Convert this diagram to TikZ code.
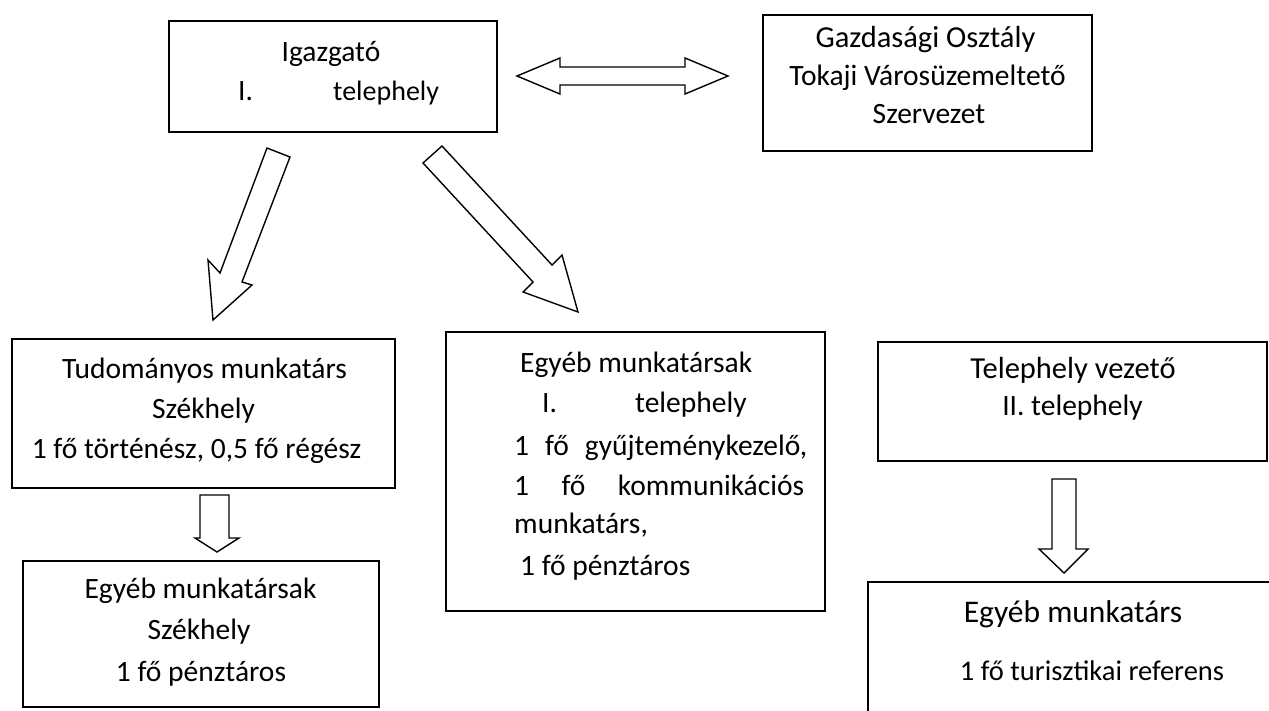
\documentclass[tikz,border=0pt]{standalone}
\usepackage{fontspec}
\setmainfont{Carlito}
\begin{document}
\begin{tikzpicture}[x=1pt,y=-1pt,
  box/.style={draw, line width=1.8pt, rectangle, inner sep=0pt},
  txt/.style={inner sep=0pt, font=\fontsize{29.5}{34}\selectfont},
  blockarrow/.style={draw, line width=1.4pt, fill=white, line join=miter}]
\useasboundingbox (0,0) rectangle (1269,710);
\clip (0,0) rectangle (1269,710);
\fill[white] (0,0) rectangle (1269,710);

% boxes
\node[box, minimum width=328pt, minimum height=111pt] (igaz) at (333,76.5) {};
\node[box, minimum width=329pt, minimum height=136pt] (gazd) at (927.5,83) {};
\node[box, minimum width=383pt, minimum height=149pt] (tud) at (203.5,413.5) {};
\node[box, minimum width=356pt, minimum height=146pt] (egyl) at (201,634) {};
\node[box, minimum width=379pt, minimum height=279pt] (egym) at (635.5,471.5) {};
\node[box, minimum width=389pt, minimum height=119pt] (telv) at (1072.5,401.5) {};
\node[box, minimum width=432pt, minimum height=158pt] (egyr) at (1084,661) {};

% texts
\node[txt, anchor=base] (t1) at (331,61) {Igazgató};
\node[txt, anchor=base west] (t2) at (238,100) {\makebox[95pt][l]{I.}{\fontsize{28}{34}\selectfont telephely}};

\node[txt, anchor=base] (g1) at (925.5,47) {\fontsize{30.5}{34}\selectfont Gazdasági Osztály};
\node[txt, anchor=base] (g2) at (927.5,85) {Tokaji Városüzemeltető};
\node[txt, anchor=base] (g3) at (929,123) {Szervezet};

\node[txt, anchor=base] (u1) at (204.5,378) {Tudományos munkatárs};
\node[txt, anchor=base] (u2) at (203.5,418) {Székhely};
\node[txt, anchor=base] (u3) at (196.5,458) {1 fő történész, 0,5 fő régész};

\node[txt, anchor=base] (l1) at (200.5,598) {Egyéb munkatársak};
\node[txt, anchor=base] (l2) at (199,639) {Székhely};
\node[txt, anchor=base] (l3) at (201,681) {1 fő pénztáros};

\node[txt, anchor=base west] (m1) at (520,372) {Egyéb munkatársak};
\node[txt, anchor=base west] (m2) at (542,412) {\makebox[93pt][l]{I.}telephely};
\node[txt, anchor=base west] (m3) at (514,455) {\makebox[293pt][s]{1 fő gyűjteménykezelő,}};
\node[txt, anchor=base west] (m4) at (514,495) {\makebox[290pt][s]{1 fő kommunikációs}};
\node[txt, anchor=base west] (m5) at (514,533) {munkatárs,};
\node[txt, anchor=base west] (m6) at (520,575) {1 fő pénztáros};

\node[txt, anchor=base] (v1) at (1073,378) {\fontsize{30.5}{34}\selectfont Telephely vezető};
\node[txt, anchor=base] (v2) at (1072.5,415) {II. telephely};

\node[txt, anchor=base] (r1) at (1073,622) {\fontsize{31.5}{34}\selectfont Egyéb munkatárs};
\node[txt, anchor=base] (r2) at (1092,680) {\fontsize{28.5}{34}\selectfont 1 fő turisztikai referens};

% block arrows
\draw[blockarrow] (517,76) -- (560,58) -- (560,67) -- (685,67) -- (685,58) -- (728,76)
  -- (685,94) -- (685,85) -- (560,85) -- (560,94) -- cycle;
\draw[blockarrow] (267,148) -- (290,157) -- (242,282) -- (252,285) -- (213,320)
  -- (208,260) -- (220,273) -- cycle;
\draw[blockarrow] (442,146) -- (552,265) -- (562,255) -- (578,312) -- (523,292)
  -- (533,282) -- (423,163) -- cycle;
\draw[blockarrow] (200,495) -- (229,495) -- (229,538) -- (239,538) -- (217,552)
  -- (195,538) -- (200,538) -- cycle;
\draw[blockarrow] (1052,479) -- (1076,479) -- (1076,549) -- (1088,549) -- (1064,573)
  -- (1039,549) -- (1052,549) -- cycle;
\end{tikzpicture}
\end{document}
